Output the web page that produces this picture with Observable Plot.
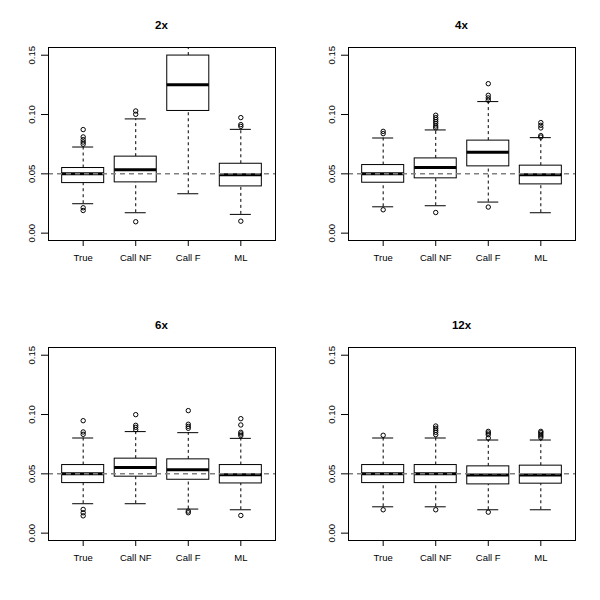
<!DOCTYPE html>
<html><head><meta charset="utf-8">
<script src="https://cdn.jsdelivr.net/npm/d3@7"></script>
<script src="https://cdn.jsdelivr.net/npm/@observablehq/plot@0.6"></script>
<style>
body{margin:0;background:#fff;font-family:"Liberation Sans",Arial,Helvetica,sans-serif;}
#grid{display:grid;grid-template-columns:300px 300px;grid-template-rows:300px 300px;width:600px;height:600px;}
.panel{width:300px;height:300px;overflow:hidden;}
.title{height:40px;box-sizing:border-box;padding-top:18px;line-height:14px;margin-left:48px;width:227px;text-align:center;font-weight:bold;font-size:11.5px;color:#000;}
svg{display:block;}
</style></head><body><div id="grid"></div>
<script>
const panels = ["2x", "4x", "6x", "12x"];
const methods = ["True", "Call NF", "Call F", "ML"];
const yTicks = [0, 0.05, 0.10, 0.15];
const refLine = 0.05;

// per panel, per method
const lowerWhisker = [
  [0.0248, 0.0172, 0.0332, 0.0158],
  [0.0222, 0.0231, 0.0262, 0.0172],
  [0.0248, 0.0248, 0.0203, 0.0197],
  [0.0222, 0.0222, 0.0197, 0.0197]
];
const q1 = [
  [0.0422, 0.0428, 0.1030, 0.0394],
  [0.0425, 0.0462, 0.0563, 0.0411],
  [0.0422, 0.0476, 0.0450, 0.0419],
  [0.0422, 0.0422, 0.0411, 0.0417]
];
const median = [
  [0.0501, 0.0535, 0.1250, 0.0493],
  [0.0501, 0.0554, 0.0681, 0.0493],
  [0.0501, 0.0554, 0.0535, 0.0493],
  [0.0501, 0.0501, 0.0490, 0.0490]
];
const q3 = [
  [0.0549, 0.0645, 0.1497, 0.0585],
  [0.0574, 0.0630, 0.0780, 0.0569],
  [0.0574, 0.0628, 0.0622, 0.0574],
  [0.0574, 0.0574, 0.0563, 0.0569]
];
const upperWhisker = [
  [0.0726, 0.0963, 0.1700, 0.0875],
  [0.0802, 0.0870, 0.1109, 0.0805],
  [0.0802, 0.0856, 0.0847, 0.0799],
  [0.0802, 0.0802, 0.0785, 0.0785]
];
const outliers = [
  [[0.0873, 0.0811, 0.0788, 0.0768, 0.0750, 0.0214, 0.0191],
   [0.1030, 0.1002, 0.0096],
   [],
   [0.0974, 0.0915, 0.0900, 0.0101]],
  [[0.0858, 0.0839, 0.0197],
   [0.0994, 0.0974, 0.0957, 0.0940, 0.0923, 0.0903, 0.0887, 0.0174],
   [0.1260, 0.1162, 0.1140, 0.1120, 0.0220],
   [0.0932, 0.0909, 0.0887, 0.0822, 0.0810]],
  [[0.0948, 0.0853, 0.0833, 0.0200, 0.0172, 0.0146],
   [0.0999, 0.0909, 0.0892, 0.0872],
   [0.1033, 0.0918, 0.0900, 0.0884, 0.0186, 0.0172],
   [0.0965, 0.0912, 0.0850, 0.0836, 0.0822, 0.0149]],
  [[0.0825, 0.0197],
   [0.0903, 0.0884, 0.0867, 0.0850, 0.0830, 0.0197],
   [0.0858, 0.0844, 0.0830, 0.0802, 0.0177],
   [0.0858, 0.0847, 0.0833, 0.0819, 0.0805]]
];

const grid = document.getElementById("grid");
const BOX = 0.4, CAP = 0.2;

panels.forEach((name, p) => {
  const rows = methods.map((m, i) => ({
    i: i + 1, lo: lowerWhisker[p][i], q1: q1[p][i], med: median[p][i], q3: q3[p][i], hi: upperWhisker[p][i]
  }));
  const pts = [];
  methods.forEach((m, i) => outliers[p][i].forEach(v => pts.push({i: i + 1, v})));

  const chart = Plot.plot({
    width: 300,
    height: 260,
    marginLeft: 48,
    marginRight: 25,
    marginTop: 7,
    marginBottom: 60,
    style: {fontFamily: '"Liberation Sans", Arial, Helvetica, sans-serif', fontSize: "9.5px", color: "#000", background: "#fff"},
    x: {domain: [0.34, 4.66]},
    y: {domain: [-0.0062, 0.1565]},
    marks: [
      Plot.ruleX(rows, {x: "i", y1: "q3", y2: "hi", stroke: "#000", strokeDasharray: "3,3", clip: true}),
      Plot.ruleX(rows, {x: "i", y1: "lo", y2: "q1", stroke: "#000", strokeDasharray: "3,3", clip: true}),
      Plot.ruleY(rows, {y: "hi", x1: d => d.i - CAP, x2: d => d.i + CAP, stroke: "#000", clip: true}),
      Plot.ruleY(rows, {y: "lo", x1: d => d.i - CAP, x2: d => d.i + CAP, stroke: "#000", clip: true}),
      Plot.rect(rows, {x1: d => d.i - BOX, x2: d => d.i + BOX, y1: "q1", y2: "q3", fill: "#fff", stroke: "#000", strokeWidth: 1, clip: true}),
      Plot.ruleY(rows, {y: "med", x1: d => d.i - BOX, x2: d => d.i + BOX, stroke: "#000", strokeWidth: 3, clip: true}),
      Plot.dot(pts, {x: "i", y: "v", r: 2.2, stroke: "#000", fill: "none", strokeWidth: 1}),
      Plot.ruleY([refLine], {stroke: "#808080", strokeWidth: 1.5, strokeDasharray: "5,4"}),
      Plot.frame({stroke: "#000", strokeWidth: 1}),
      Plot.axisY({ticks: yTicks, tickFormat: d3.format(".2f"), tickRotate: -90, tickSize: 7, tickPadding: 7, label: null}),
      Plot.axisX({ticks: [1, 2, 3, 4], tickFormat: d => methods[d - 1], tickSize: 6, tickPadding: 8, label: null})
    ]
  });

  const div = document.createElement("div");
  div.className = "panel";
  const t = document.createElement("div");
  t.className = "title";
  t.textContent = name;
  div.appendChild(t);
  div.appendChild(chart);
  grid.appendChild(div);
});
</script>
</body></html>
